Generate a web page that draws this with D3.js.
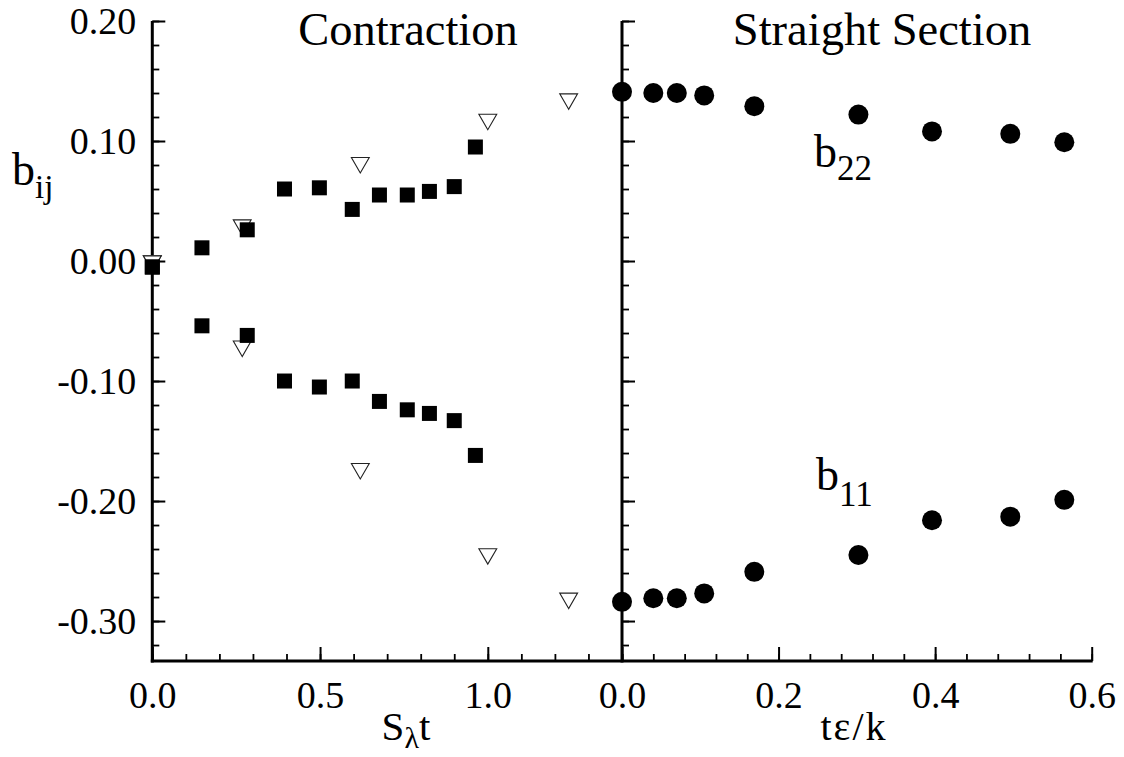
<!DOCTYPE html>
<html>
<head>
<meta charset="utf-8">
<script src="https://cdn.jsdelivr.net/npm/d3@7"></script>
<style>
  html, body { margin: 0; padding: 0; background: #fff; }
  svg { display: block; }
</style>
</head>
<body>
<svg id="chart" width="1124" height="757"></svg>
<script>
// ---------- data ----------
// Contraction section (x = S_lambda t)
const squareX   = [0, 0.148, 0.283, 0.394, 0.498, 0.596, 0.677, 0.760, 0.826, 0.900, 0.963];
const squareB22 = [-0.005, 0.011, 0.026, 0.060, 0.061, 0.043, 0.055, 0.055, 0.058, 0.062, 0.095];
const squareB11 = [-0.005, -0.054, -0.062, -0.100, -0.105, -0.100, -0.117, -0.124, -0.127, -0.133, -0.162];

const triangleX   = [0, 0.268, 0.620, 1.000, 1.241];
const triangleB22 = [0.000, 0.030, 0.082, 0.118, 0.135];
const triangleB11 = [0.000, -0.071, -0.173, -0.244, -0.281];

// Straight section (x = t eps / k)
const circleX   = [0, 0.040, 0.070, 0.105, 0.169, 0.302, 0.396, 0.496, 0.565];
const circleB22 = [0.141, 0.140, 0.140, 0.138, 0.129, 0.122, 0.108, 0.106, 0.099];
const circleB11 = [-0.284, -0.281, -0.281, -0.277, -0.259, -0.245, -0.216, -0.213, -0.199];

// ticks
const yMajorTicks = [-0.30, -0.20, -0.10, 0.00, 0.10, 0.20];
const yTickLabels = ["-0.30", "-0.20", "-0.10", "0.00", "0.10", "0.20"];
const leftXMajor  = [0, 0.5, 1.0];
const leftXLabels = ["0.0", "0.5", "1.0"];
const rightXMajor  = [0, 0.2, 0.4, 0.6];
const rightXLabels = ["0.0", "0.2", "0.4", "0.6"];

// ---------- layout ----------
const FONT = "Liberation Serif";
const svg = d3.select("#chart").attr("font-family", FONT);
const yTop = 21, yBottom = 661;
const leftX0 = 152.3, divX = 622, rightX1 = 1091.7;

const y = d3.scaleLinear().domain([-0.3333, 0.20]).range([yBottom, yTop]);
const xL = d3.scaleLinear().domain([0, 1.4]).range([leftX0, divX]);
const xR = d3.scaleLinear().domain([0, 0.6]).range([divX, rightX1]);

const yMinor = d3.range(-32, 21, 2).map(v => v / 100);
const xLMinor = d3.range(0, 15, 1).map(v => v / 10);
const xRMinor = d3.range(0, 16, 1).map(v => v * 0.04);

function styleAxis(g, width) {
  g.attr("font-family", FONT);
  g.select(".domain").remove();
  g.selectAll(".tick line").attr("stroke", "#000").attr("stroke-width", width);
  g.selectAll("text").attr("font-family", FONT).attr("fill", "#000");
}

const yMinorAxis = d3.axisLeft(y).tickValues(yMinor).tickSize(-7).tickFormat("");
const yMajorAxis = d3.axisLeft(y).tickValues(yMajorTicks).tickSize(-13)
  .tickPadding(16).tickFormat((d, i) => yTickLabels[i]);

[leftX0, divX].forEach((xp, k) => {
  const gMin = svg.append("g").attr("transform", `translate(${xp},0)`).call(yMinorAxis);
  styleAxis(gMin, 1.8);
  const gMaj = svg.append("g").attr("transform", `translate(${xp},0)`).call(yMajorAxis);
  styleAxis(gMaj, 2);
  gMaj.selectAll("text").attr("font-size", 38).attr("dy", "0.33em");
  if (k === 1) gMaj.selectAll("text").remove();
});

function xAxes(scale, minor, major, labels) {
  const gMin = svg.append("g").attr("transform", `translate(0,${yBottom})`)
    .call(d3.axisBottom(scale).tickValues(minor).tickSize(-7).tickFormat(""));
  styleAxis(gMin, 1.8);
  const gMaj = svg.append("g").attr("transform", `translate(0,${yBottom})`)
    .call(d3.axisBottom(scale).tickValues(major).tickSize(-14).tickPadding(20)
      .tickFormat((d, i) => labels[i]));
  styleAxis(gMaj, 2);
  gMaj.selectAll("text").attr("font-size", 38).attr("dy", "0.71em");
}
xAxes(xL, xLMinor, leftXMajor, leftXLabels);
xAxes(xR, xRMinor, rightXMajor, rightXLabels);

svg.append("line").attr("x1", leftX0).attr("x2", leftX0).attr("y1", yTop).attr("y2", yBottom + 1.5)
  .attr("stroke", "#000").attr("stroke-width", 3);
svg.append("line").attr("x1", divX).attr("x2", divX).attr("y1", yTop).attr("y2", yBottom + 1.5)
  .attr("stroke", "#000").attr("stroke-width", 3);
svg.append("line").attr("x1", leftX0 - 1.5).attr("x2", rightX1 + 1).attr("y1", yBottom).attr("y2", yBottom)
  .attr("stroke", "#000").attr("stroke-width", 3);

// ---------- marks ----------
const tri = d3.symbol().type(d3.symbolTriangle).size(138);
function drawTriangles(xs, ys) {
  svg.append("g").selectAll("path").data(xs.map((d, i) => [d, ys[i]])).join("path")
    .attr("d", tri)
    .attr("transform", d => `translate(${xL(d[0])},${y(d[1])}) rotate(180)`)
    .attr("fill", "#fff").attr("stroke", "#222").attr("stroke-width", 1.1);
}
drawTriangles(triangleX, triangleB22);
drawTriangles(triangleX, triangleB11);

function drawSquares(xs, ys) {
  const s = 15;
  svg.append("g").selectAll("rect").data(xs.map((d, i) => [d, ys[i]])).join("rect")
    .attr("x", d => xL(d[0]) - s / 2).attr("y", d => y(d[1]) - s / 2)
    .attr("width", s).attr("height", s).attr("fill", "#000");
}
drawSquares(squareX, squareB22);
drawSquares(squareX, squareB11);

function drawCircles(xs, ys) {
  svg.append("g").selectAll("circle").data(xs.map((d, i) => [d, ys[i]])).join("circle")
    .attr("cx", d => xR(d[0])).attr("cy", d => y(d[1])).attr("r", 10).attr("fill", "#000");
}
drawCircles(circleX, circleB22);
drawCircles(circleX, circleB11);

// ---------- text ----------
function txt(x, yb) {
  return svg.append("text").attr("x", x).attr("y", yb)
    .attr("font-family", FONT).attr("fill", "#000");
}
txt(408, 45).attr("text-anchor", "middle").attr("font-size", 46.5).text("Contraction");
txt(882, 45).attr("text-anchor", "middle").attr("font-size", 46.5).text("Straight Section");

function subLabel(x, yb, main, sub, mainSize, subSize, shift) {
  const t = txt(x, yb);
  t.append("tspan").attr("font-size", mainSize).text(main);
  t.append("tspan").attr("font-size", subSize).attr("dy", shift).text(sub);
  return t;
}
subLabel(12, 185, "b", "ij", 46, 33, 13);
subLabel(814, 167, "b", "22", 46, 35, 13);
subLabel(816, 490, "b", "11", 46, 35, 16);

const s1 = txt(406, 740).attr("text-anchor", "middle");
s1.append("tspan").attr("font-size", 41).text("S");
s1.append("tspan").attr("font-size", 30).attr("dy", 8).text("λ");
s1.append("tspan").attr("font-size", 41).attr("dy", -8).text("t");

txt(854, 740).attr("text-anchor", "middle").attr("font-size", 40)
  .attr("letter-spacing", 2).text("tε/k");
</script>
</body>
</html>
